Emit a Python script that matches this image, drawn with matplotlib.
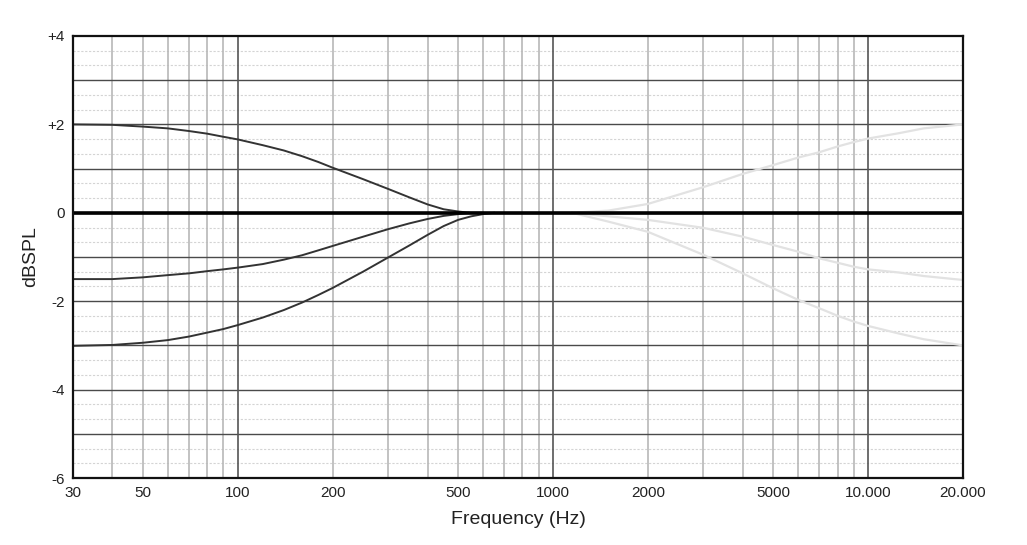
import matplotlib
matplotlib.use("Agg")
import matplotlib.pyplot as plt
from matplotlib.ticker import FixedLocator, FixedFormatter, NullFormatter

plt.rcParams['font.family'] = ['Liberation Sans', 'DejaVu Sans']

# ---- data ----
low_freq_boost = [30, 40, 50, 60, 70, 80, 90, 100, 120, 140, 160, 180, 200, 250, 300, 350, 400, 450, 500, 545, 600]
low_boost = [2.0, 1.99, 1.95, 1.91, 1.85, 1.79, 1.72, 1.66, 1.53, 1.41, 1.28, 1.15, 1.02, 0.76, 0.54, 0.35, 0.19, 0.08, 0.03, 0.0, 0.0]

low_freq_cut1 = [30, 40, 50, 60, 70, 80, 90, 100, 120, 140, 160, 180, 200, 250, 300, 350, 400, 450, 500, 540]
low_cut1 = [-1.5, -1.5, -1.46, -1.41, -1.37, -1.32, -1.28, -1.24, -1.16, -1.06, -0.96, -0.85, -0.75, -0.54, -0.37, -0.24, -0.14, -0.07, -0.03, 0.0]

low_freq_cut2 = [30, 40, 50, 60, 70, 80, 90, 100, 120, 140, 160, 180, 200, 250, 300, 350, 400, 450, 500, 550, 600, 650]
low_cut2 = [-3.01, -2.99, -2.94, -2.88, -2.80, -2.71, -2.63, -2.54, -2.37, -2.20, -2.03, -1.86, -1.70, -1.33, -1.01, -0.74, -0.50, -0.30, -0.16, -0.08, -0.03, 0.0]

high_freq = [1150, 1500, 2000, 3000, 4000, 5000, 6000, 7000, 8000, 9000, 10000, 12500, 15000, 20000]
high_boost = [0.0, 0.05, 0.2, 0.58, 0.88, 1.08, 1.25, 1.37, 1.5, 1.6, 1.68, 1.8, 1.91, 2.0]
high_cut1 = [0.0, -0.08, -0.16, -0.34, -0.54, -0.73, -0.88, -1.03, -1.13, -1.22, -1.28, -1.35, -1.43, -1.52]
high_cut2 = [0.0, -0.2, -0.43, -0.95, -1.37, -1.71, -1.97, -2.16, -2.33, -2.46, -2.56, -2.73, -2.86, -3.0]

flat_freq = [30, 20000]
flat = [0, 0]

x_ticks = [30, 50, 100, 200, 500, 1000, 2000, 5000, 10000, 20000]
x_tick_labels = ['30', '50', '100', '200', '500', '1000', '2000', '5000', '10.000', '20.000']
y_ticks = [-6, -4, -2, 0, 2, 4]
y_tick_labels = ['-6', '-4', '-2', '0', '+2', '+4']

grid_light_freqs = [40, 50, 60, 70, 80, 90, 200, 300, 400, 500, 600, 700, 800, 900,
                    2000, 3000, 4000, 5000, 6000, 7000, 8000, 9000]
grid_decade_freqs = [100, 1000, 10000]

# ---- figure ----
fig = plt.figure(figsize=(10.27, 5.45), dpi=100)
ax = fig.add_axes([73/1027, 67/545, 890/1027, 442/545])
ax.set_xscale('log')
ax.set_xlim(30, 20000)
ax.set_ylim(-6, 4)

# minor horizontal grid (1/3 dB, dotted)
for i in range(-18, 13):
    v = i / 3.0
    if i % 3 != 0:
        ax.axhline(v, color='#d4d4d4', lw=0.8, ls=(0, (2, 1.5)), zorder=1)
# major horizontal grid
for v in range(-5, 4):
    ax.axhline(v, color='#4a4a4a', lw=1.0, zorder=2)
# vertical grid
for f in grid_light_freqs:
    ax.axvline(f, color='#b8b8b8', lw=1.2, zorder=1.5)
for f in grid_decade_freqs:
    ax.axvline(f, color='#555555', lw=1.2, zorder=2)

# faint high shelves
for vals in (high_boost, high_cut1, high_cut2):
    ax.plot(high_freq, vals, color='#e2e2e2', lw=1.6, zorder=3)

# low shelves
for fr, vals in ((low_freq_boost, low_boost), (low_freq_cut1, low_cut1), (low_freq_cut2, low_cut2)):
    ax.plot(fr, vals, color='#333333', lw=1.4, zorder=4)

ax.plot(flat_freq, flat, color='black', lw=2.6, zorder=5, solid_capstyle='butt')

ax.xaxis.set_major_locator(FixedLocator(x_ticks))
ax.xaxis.set_major_formatter(FixedFormatter(x_tick_labels))
ax.xaxis.set_minor_locator(FixedLocator([]))
ax.xaxis.set_minor_formatter(NullFormatter())
ax.yaxis.set_major_locator(FixedLocator(y_ticks))
ax.yaxis.set_major_formatter(FixedFormatter(y_tick_labels))
ax.tick_params(axis='both', length=0, labelsize=11, colors='#222222')
ax.tick_params(axis='x', pad=6)
ax.tick_params(axis='y', pad=6)

for s in ax.spines.values():
    s.set_linewidth(1.6)
    s.set_color('#111111')
    s.set_zorder(6)

ax.set_xlabel('Frequency (Hz)', fontsize=14, labelpad=8, color='#222222')
ax.set_ylabel('dBSPL', fontsize=14, labelpad=6, color='#222222')

fig.savefig('out.png', dpi=100)
